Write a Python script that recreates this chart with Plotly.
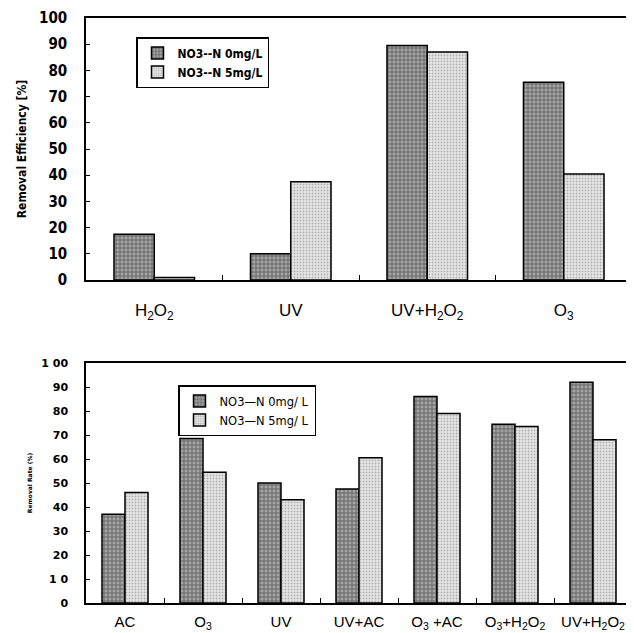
import plotly.graph_objects as go

# ---- data (top chart) ----
top_categories = ["H2O2", "UV", "UV+H2O2", "O3"]
top_tick_labels = ["H<sub>2</sub>O<sub>2</sub>", "UV", "UV+H<sub>2</sub>O<sub>2</sub>", "O<sub>3</sub>"]
top_series_names = ["NO3--N 0mg/L", "NO3--N 5mg/L"]
top_no3_0 = [17.5, 10, 89.5, 75.5]
top_no3_5 = [1, 37.5, 87, 40.5]
top_y_title = "Removal Efficiency [%]"

# ---- data (bottom chart) ----
bot_categories = ["AC", "O3", "UV", "UV+AC", "O3+AC", "O3+H2O2", "UV+H2O2"]
bot_tick_labels = ["AC", "O<sub>3</sub>", "UV", "UV+AC", "O<sub>3</sub> +AC",
                   "O<sub>3</sub>+H<sub>2</sub>O<sub>2</sub>", "UV+H<sub>2</sub>O<sub>2</sub>"]
bot_series_names = ["NO3—N 0mg/ L", "NO3—N 5mg/ L"]
bot_no3_0 = [37, 68.5, 50, 47.5, 86, 74.5, 92]
bot_no3_5 = [46, 54.5, 43, 60.5, 79, 73.5, 68]
bot_y_title = "Removal Rate (%)"

y_tick_vals = [0, 10, 20, 30, 40, 50, 60, 70, 80, 90, 100]
top_y_tick_text = ["0", "10", "20", "30", "40", "50", "60", "70", "80", "90", "100"]
bot_y_tick_text = ["0", "1 0", "20", "30", "40", "50", "60", "70", "80", "90", "1 00"]

# page body has an 8px margin, so the figure starts at (8, 8)
OFF = 8
W, H = 634 - OFF, 633 - OFF


def px_x(x):
    return (x - OFF) / W


def px_y(y):
    return 1 - (y - OFF) / H


dark_style = dict(color="#8c8c8c",
                  line=dict(color="black", width=1.5),
                  pattern=dict(shape="+", fgcolor="#1e1e1e", bgcolor="#a4a4a4",
                               size=4, solidity=0.4))
light_style = dict(color="#d9d9d9",
                   line=dict(color="black", width=1.5),
                   pattern=dict(shape=".", fgcolor="#7a7a7a", bgcolor="#e6e6e6",
                                size=3, solidity=0.3))

fig = go.Figure()
fig.add_trace(go.Bar(x=top_categories, y=top_no3_0, name=top_series_names[0],
                     marker=dark_style, xaxis="x", yaxis="y", legend="legend"))
fig.add_trace(go.Bar(x=top_categories, y=top_no3_5, name=top_series_names[1],
                     marker=light_style, xaxis="x", yaxis="y", legend="legend"))
fig.add_trace(go.Bar(x=bot_categories, y=bot_no3_0, name=bot_series_names[0],
                     marker=dark_style, xaxis="x2", yaxis="y2", legend="legend2"))
fig.add_trace(go.Bar(x=bot_categories, y=bot_no3_5, name=bot_series_names[1],
                     marker=light_style, xaxis="x2", yaxis="y2", legend="legend2"))

axis_common = dict(showline=True, linecolor="black", linewidth=1.5, mirror=True,
                   showgrid=False, zeroline=False, automargin=False)

fig.update_layout(
    width=W, height=H,
    margin=dict(l=0, r=0, t=0, b=0),
    paper_bgcolor="white", plot_bgcolor="white",
    barmode="group", bargap=0.41, bargroupgap=0,
    font=dict(family="Liberation Sans, Arial, sans-serif", color="black"),
    xaxis=dict(domain=[px_x(86), px_x(632)], anchor="y",
               tickmode="array", tickvals=top_categories, ticktext=top_tick_labels,
               ticks="inside", tickson="boundaries", ticklen=5, tickcolor="black",
               ticklabelstandoff=14,
               tickfont=dict(size=17, family="Liberation Sans, Arial"),
               range=[-0.5, 3.5], **axis_common),
    yaxis=dict(domain=[px_y(280), px_y(18)], anchor="x", range=[0, 100],
               tickmode="array", tickvals=y_tick_vals, ticktext=top_y_tick_text,
               ticks="inside", ticklen=4, tickcolor="black",
               ticklabelstandoff=14,
               tickfont=dict(size=15, weight="bold",
                             family="DejaVu Sans Condensed, Liberation Sans"),
               title=dict(text=top_y_title, standoff=10,
                          font=dict(size=12, weight="bold",
                                    family="DejaVu Sans Condensed, Liberation Sans")),
               **axis_common),
    xaxis2=dict(domain=[px_x(86), px_x(632)], anchor="y2",
                tickmode="array", tickvals=bot_categories, ticktext=bot_tick_labels,
                ticks="inside", tickson="boundaries", ticklen=5, tickcolor="black",
                ticklabelstandoff=4,
                tickfont=dict(size=15, family="Liberation Sans, Arial"),
                range=[-0.5, 6.5], **axis_common),
    yaxis2=dict(domain=[px_y(603), px_y(363)], anchor="x2", range=[0, 100],
                tickmode="array", tickvals=y_tick_vals, ticktext=bot_y_tick_text,
                ticks="inside", ticklen=4, tickcolor="black",
                ticklabelstandoff=14,
                tickfont=dict(size=11, weight="bold", family="DejaVu Sans, Liberation Sans"),
                title=dict(text=bot_y_title, standoff=8,
                           font=dict(size=6, weight="bold", family="DejaVu Sans")),
                **axis_common),
    legend=dict(x=px_x(136), y=px_y(37), xanchor="left", yanchor="top",
                bgcolor="white", bordercolor="black", borderwidth=1.5,
                font=dict(size=12, weight="bold",
                          family="DejaVu Sans Condensed, Liberation Sans"),
                itemwidth=30, tracegroupgap=0),
    legend2=dict(x=px_x(178), y=px_y(385), xanchor="left", yanchor="top",
                 bgcolor="white", bordercolor="black", borderwidth=1.5,
                 font=dict(size=11.5, family="DejaVu Sans, Liberation Sans"),
                 itemwidth=30, tracegroupgap=0),
)

fig.write_html("out.html")
